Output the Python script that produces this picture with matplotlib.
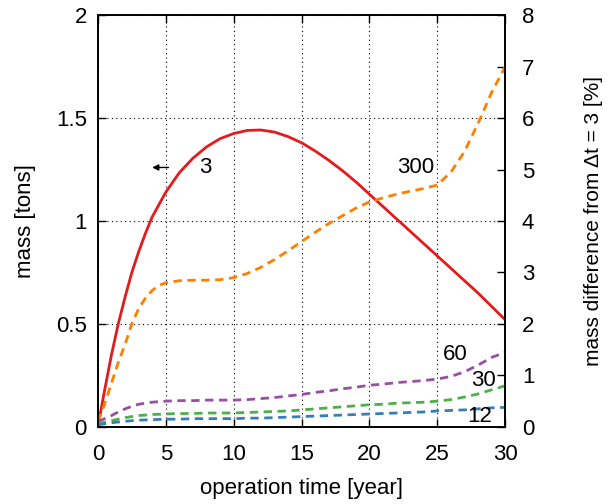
import matplotlib
matplotlib.use("Agg")
import matplotlib.pyplot as plt

plt.rcParams["font.family"] = ["Liberation Sans", "DejaVu Sans"]
plt.rcParams["font.size"] = 16

years = [0, 0.5, 1, 1.5, 2, 2.5, 3, 3.5, 4, 4.5, 5, 6, 7, 8, 9, 10,
         11, 12, 13, 14, 15, 16, 17, 18, 19, 20,
         21, 22, 23, 24, 25, 26, 27, 28, 29, 30]

# mass for dt = 3 [tons], left axis
mass_3 = [0.0, 0.18, 0.35, 0.5, 0.63, 0.75, 0.85, 0.94, 1.02, 1.08, 1.14,
          1.235, 1.305, 1.36, 1.40, 1.425,
          1.44, 1.442, 1.432, 1.41, 1.38, 1.34, 1.295, 1.245, 1.19, 1.13,
          1.07, 1.01, 0.95, 0.89, 0.83, 0.77, 0.71, 0.65, 0.585, 0.52]

# mass difference from dt = 3 [%], right axis
diff_300 = [0.1, 0.45, 0.85, 1.25, 1.6, 2.0, 2.3, 2.5, 2.65, 2.75, 2.8,
            2.84, 2.85, 2.85, 2.86, 2.9,
            2.98, 3.1, 3.25, 3.42, 3.6, 3.78, 3.95, 4.1, 4.25, 4.37,
            4.45, 4.52, 4.58, 4.63, 4.7, 4.95, 5.35, 5.9, 6.5, 7.0]
diff_60 = [0.1, 0.16, 0.22, 0.29, 0.35, 0.4, 0.44, 0.46, 0.48, 0.49, 0.5,
           0.51, 0.51, 0.52, 0.52, 0.52,
           0.53, 0.55, 0.57, 0.6, 0.63, 0.67, 0.7, 0.74, 0.77, 0.81,
           0.83, 0.86, 0.88, 0.9, 0.93, 0.98, 1.07, 1.2, 1.35, 1.45]
diff_30 = [0.06, 0.09, 0.12, 0.15, 0.18, 0.2, 0.22, 0.23, 0.24, 0.245, 0.25,
           0.26, 0.26, 0.27, 0.27, 0.27,
           0.28, 0.29, 0.3, 0.31, 0.33, 0.35, 0.37, 0.39, 0.41, 0.43,
           0.44, 0.46, 0.47, 0.48, 0.5, 0.53, 0.58, 0.64, 0.72, 0.8]
diff_12 = [0.04, 0.06, 0.08, 0.095, 0.11, 0.12, 0.13, 0.135, 0.14, 0.145, 0.15,
           0.15, 0.16, 0.16, 0.16, 0.16,
           0.17, 0.17, 0.18, 0.19, 0.2, 0.21, 0.22, 0.23, 0.24, 0.25,
           0.26, 0.27, 0.28, 0.29, 0.31, 0.32, 0.33, 0.35, 0.37, 0.38]

fig = plt.figure(figsize=(6.08, 5.04), dpi=100)
ax = fig.add_axes([0.161, 0.153, 0.670, 0.817])
ax2 = ax.twinx()

ax.plot(years, mass_3, color="#e41a1c", lw=2.0, zorder=5)
ax2.plot(years, diff_300, color="#ff7f00", lw=2.0, ls=(0, (3, 2)))
ax2.plot(years, diff_60, color="#984ea3", lw=2.0, ls=(0, (3, 2)))
ax2.plot(years, diff_30, color="#4daf4a", lw=2.0, ls=(0, (3, 2)))
ax2.plot(years, diff_12, color="#377eb8", lw=2.0, ls=(0, (3, 2)))

ax.set_xlim(0, 30)
ax.set_ylim(0, 2)
ax2.set_ylim(0, 8)
ax.set_xticks([0, 5, 10, 15, 20, 25, 30])
ax.set_yticks([0, 0.5, 1, 1.5, 2])
ax.set_yticklabels(["0", "0.5", "1", "1.5", "2"])
ax2.set_yticks(range(0, 9))

ax.grid(True, color="black", ls=(0, (1, 3)), lw=0.8)
ax.tick_params(direction="in", top=True, length=6, width=1, pad=8)
ax.tick_params(axis="x", pad=12)
ax2.tick_params(direction="in", length=6, width=1, pad=12)
for a in (ax, ax2):
    for s in a.spines.values():
        s.set_linewidth(1.2)

ax.set_xlabel("operation time [year]", labelpad=10)
ax.set_ylabel("mass [tons]", labelpad=14)
ax2.set_ylabel("mass difference from \u0394t = 3 [%]", labelpad=36, fontsize=15)

ax.text(7.9, 1.26, "3", ha="center", va="center")
ax.annotate("", xy=(4.0, 1.26), xytext=(5.2, 1.26),
            arrowprops=dict(arrowstyle="-|>", color="black", lw=1,
                            mutation_scale=9, shrinkA=0, shrinkB=0))
ax2.text(23.4, 5.03, "300", ha="center", va="center")
ax2.text(26.3, 1.4, "60", ha="center", va="center")
ax2.text(28.4, 0.91, "30", ha="center", va="center")
ax2.text(28.1, 0.21, "12", ha="center", va="center")

fig.savefig("out.png", dpi=100)
